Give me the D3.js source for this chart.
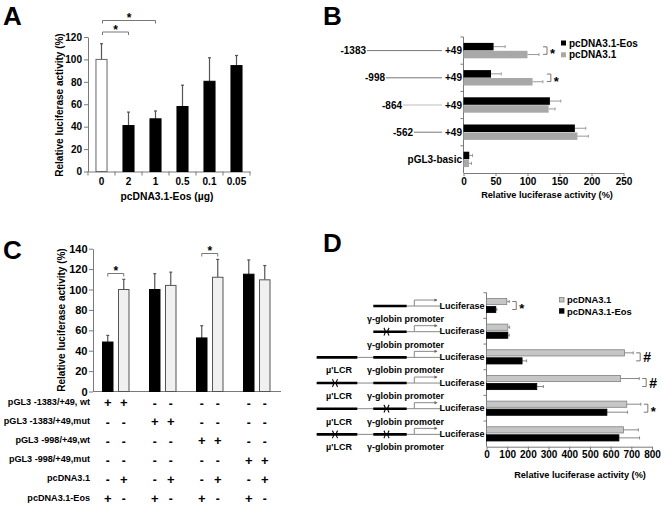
<!DOCTYPE html>
<html><head><meta charset="utf-8">
<script src="https://cdn.jsdelivr.net/npm/d3@7"></script>
<style>
body{margin:0;background:#fff}
svg text{font-family:"Liberation Sans",Arial,Helvetica,sans-serif;font-weight:bold;fill:#000}
</style>
</head><body>
<svg id="c" width="661" height="506"></svg>
<script>
// ---------- DATA ----------
// Panel A
const aCategories = ["0","2","1","0.5","0.1","0.05"];
const aValues = [100, 41, 47, 58, 80.5, 94.5];
const aErrors = [14, 12, 7, 19, 21, 9];
const aTicks = [0,20,40,60,80,100,120];
const aSig = [{from:"0", to:"2", label:"*"}, {from:"0", to:"1", label:"*"}];

// Panel B
const bCategories = ["-1383","-998","-864","-562","pGL3-basic"];
const bEos = [47, 43, 135, 174, 9];
const bEosErr = [18, 16, 17, 17, 5];
const bCtrl = [100, 108, 133, 178, 8.5];
const bCtrlErr = [18, 16, 10, 17, 4];
const bTicks = [0,50,100,150,200,250];
const bSig = ["-1383","-998"];
const bSeries = ["pcDNA3.1-Eos","pcDNA3.1"];

// Panel C
const cGroups = ["g1","g2","g3","g4"];
const cEos = [48.5, 100, 52.5, 115];
const cEosErr = [6.5, 15.5, 12, 14];
const cCtrl = [100, 104, 112, 109.5];
const cCtrlErr = [10, 13, 17.5, 14];
const cTicks = [0,20,40,60,80,100,120,140];
const cSig = ["g1","g3"];
const cRowLabels = ["pGL3 -1383/+49, wt","pGL3 -1383/+49,mut","pGL3 -998/+49,wt","pGL3 -998/+49,mut","pcDNA3.1","pcDNA3.1-Eos"];
const cRowSigns = [
  ["+","+","-","-","-","-","-","-"],
  ["-","-","+","+","-","-","-","-"],
  ["-","-","-","-","+","+","-","-"],
  ["-","-","-","-","-","-","+","+"],
  ["-","+","-","+","-","+","-","+"],
  ["+","-","+","-","+","-","+","-"]
];

// Panel D
const dRows = ["r1","r2","r3","r4","r5","r6"];
const dCtrl = [98, 103, 667, 648, 678, 662];
const dCtrlErr = [12, 9, 42, 90, 68, 72];
const dEos = [45, 103, 172, 243, 582, 640];
const dEosErr = [5, 7, 22, 32, 100, 100];
const dTicks = [0,100,200,300,400,500,600,700,800];
const dSig = [{row:"r1",label:"*"},{row:"r3",label:"#"},{row:"r4",label:"#"},{row:"r5",label:"*"}];
const dHasLCR = [false,false,true,true,true,true];
const dLcrMut = [false,false,false,true,false,true];
const dPromMut = [false,true,false,false,true,true];
const dSeries = ["pcDNA3.1","pcDNA3.1-Eos"];

// ---------- DRAW ----------
const svg = d3.select("#c");
const AX = "#7a7a7a";
function styleAxis(g){ g.selectAll("path,line").attr("stroke",AX).attr("stroke-width",1); }

// panel letters
[["A",3,25],["B",323,25],["C",3,259],["D",323,252]].forEach(([t,x,y])=>{
  svg.append("text").attr("x",x).attr("y",y).attr("font-size",26).text(t);
});

function bracketUp(g,x1,x2,y,label){
  g.append("path").attr("d",`M${x1},${y+3}V${y}H${x2}V${y+3}`).attr("fill","none").attr("stroke","#777").attr("stroke-width",1);
  g.append("text").attr("x",(x1+x2)/2).attr("y",y+1.5).attr("text-anchor","middle").attr("font-size",12).text(label);
}
function bracketRight(g,x0,y1,y2,label,fs){
  g.append("path").attr("d",`M${x0},${y1}H${x0+4}V${y2}H${x0}`).attr("fill","none").attr("stroke","#777").attr("stroke-width",1);
  g.append("text").attr("x",x0+7).attr("y",(y1+y2)/2).attr("dy",label==="*"?"0.6em":"0.36em").attr("font-size",fs).text(label);
}

// ===== Panel A =====
{
  const g = svg.append("g");
  const x = d3.scaleBand().domain(aCategories).range([88,250]);
  const y = d3.scaleLinear().domain([0,120]).range([171.5,37]);
  const bw = x.bandwidth()*0.41;
  g.append("g").attr("transform","translate(88,0)")
    .call(d3.axisLeft(y).tickValues(aTicks).tickSize(4).tickSizeOuter(0).tickPadding(2))
    .call(styleAxis).call(s=>s.selectAll("text").attr("font-size",10).style("font-family",null));
  g.append("g").attr("transform","translate(0,171.5)")
    .call(d3.axisBottom(x).tickSize(0).tickPadding(6).tickSizeOuter(0))
    .call(styleAxis).call(s=>s.selectAll("text").attr("font-size",10).style("font-family",null));
  g.selectAll(".bt").data(aCategories.concat(["end"])).join("line")
    .attr("x1",(d,i)=>88+i*x.step()).attr("x2",(d,i)=>88+i*x.step())
    .attr("y1",171.5).attr("y2",175.5).attr("stroke",AX);
  aCategories.forEach((c,i)=>{
    const cx = x(c)+x.bandwidth()/2;
    const top = y(aValues[i]+aErrors[i]);
    g.append("line").attr("x1",cx).attr("x2",cx).attr("y1",y(aValues[i])).attr("y2",top).attr("stroke","#555").attr("stroke-width",1.2);
    g.append("line").attr("x1",cx-1.5).attr("x2",cx+1.5).attr("y1",top).attr("y2",top).attr("stroke","#555").attr("stroke-width",1.2);
    g.append("rect").attr("x",cx-bw/2).attr("width",bw).attr("y",y(aValues[i])).attr("height",y(0)-y(aValues[i]))
      .attr("fill",i===0?"#fff":"#000").attr("stroke",i===0?"#666":"#000").attr("stroke-width",1);
  });
  const sigY = [32, 20.5];
  aSig.forEach((s,i)=>{
    bracketUp(g, x(s.from)+x.bandwidth()/2+1, x(s.to)+x.bandwidth()/2, sigY[i], s.label);
  });
  g.append("text").attr("transform","translate(63,105) rotate(-90)").attr("text-anchor","middle").attr("font-size",10).text("Relative luciferase activity (%)");
  g.append("text").attr("x",167).attr("y",200).attr("text-anchor","middle").attr("font-size",10.3).text("pcDNA3.1-Eos (µg)");
}

// ===== Panel B =====
{
  const g = svg.append("g");
  const y = d3.scaleBand().domain(bCategories).range([37,173]);
  const x = d3.scaleLinear().domain([0,250]).range([463.5,623.5]);
  const bh = 7.5;
  g.append("g").attr("transform","translate(0,173)")
    .call(d3.axisBottom(x).tickValues(bTicks).tickSize(3).tickSizeOuter(0).tickPadding(2))
    .call(styleAxis).call(s=>s.selectAll("text").attr("font-size",10).style("font-family",null));
  g.append("line").attr("x1",463.5).attr("x2",463.5).attr("y1",37).attr("y2",173).attr("stroke",AX);
  bCategories.forEach(c=>{
    g.append("line").attr("x1",460.5).attr("x2",463.5).attr("y1",y(c)).attr("y2",y(c)).attr("stroke",AX);
  });
  const lineStart = [367, 386, 403, 414];
  const lineCol = ["#777","#777","#bbb","#777"];
  bCategories.forEach((c,i)=>{
    const cy = y(c)+y.bandwidth()/2;
    // bars
    [[bEos,bEosErr,"#000",cy-bh-0.2],[bCtrl,bCtrlErr,"#a8a8a8",cy+0.2]].forEach(([v,e,col,yy])=>{
      const ym = yy+bh/2, xe = x(v[i]+e[i]);
      g.append("line").attr("x1",x(v[i])).attr("x2",xe).attr("y1",ym).attr("y2",ym).attr("stroke","#999").attr("stroke-width",1);
      g.append("line").attr("x1",xe).attr("x2",xe).attr("y1",ym-1.5).attr("y2",ym+1.5).attr("stroke","#999").attr("stroke-width",1);
      g.append("rect").attr("x",x(0)).attr("y",yy).attr("width",x(v[i])-x(0)).attr("height",bh).attr("fill",col);
    });
    if(i<4){
      g.append("text").attr("x",lineStart[i]-1).attr("y",cy).attr("dy","0.36em").attr("text-anchor","end").attr("font-size",10).text(c);
      g.append("line").attr("x1",lineStart[i]).attr("x2",442).attr("y1",cy).attr("y2",cy).attr("stroke",lineCol[i]).attr("stroke-width",1);
      g.append("text").attr("x",462).attr("y",cy).attr("dy","0.36em").attr("text-anchor","end").attr("font-size",10).text("+49");
    } else {
      g.append("text").attr("x",462).attr("y",cy).attr("dy","0.36em").attr("text-anchor","end").attr("font-size",10).text(c);
    }
    if(bSig.includes(c)){
      const mx = Math.max(bEos[i]+bEosErr[i], bCtrl[i]+bCtrlErr[i]);
      bracketRight(g, x(mx)+4, cy-bh/2, cy+bh/2, "*", 13);
    }
  });
  // legend
  const lg = g.append("g");
  bSeries.forEach((s,i)=>{
    lg.append("rect").attr("x",561).attr("y",40.5+i*11.8).attr("width",5).attr("height",5).attr("fill",i===0?"#000":"#a8a8a8");
    lg.append("text").attr("x",569).attr("y",43+i*11.8).attr("dy","0.36em").attr("font-size",10).text(s);
  });
  g.append("text").attr("x",547).attr("y",198).attr("text-anchor","middle").attr("font-size",9.2).text("Relative luciferase activity (%)");
}

// ===== Panel C =====
{
  const g = svg.append("g");
  const x = d3.scaleBand().domain(cGroups).range([92,280]);
  const xi = d3.scaleBand().domain(["Eos","Ctrl"]).range([10.5,37]).paddingInner(0.344);
  const y = d3.scaleLinear().domain([0,140]).range([391.5,248.7]);
  g.append("g").attr("transform","translate(93,0)")
    .call(d3.axisLeft(y).tickValues(cTicks).tickSize(4).tickSizeOuter(0).tickPadding(1.5))
    .call(styleAxis).call(s=>s.selectAll("text").attr("font-size",11).style("font-family",null));
  g.append("line").attr("x1",93).attr("x2",281).attr("y1",391.5).attr("y2",391.5).attr("stroke",AX);
  const cols = [];
  cGroups.forEach((gr,i)=>{
    [["Eos",cEos,cEosErr,"#000","#000"],["Ctrl",cCtrl,cCtrlErr,"#f0f0f0","#555"]].forEach(([k,v,e,f,st])=>{
      const bx = x(gr)+xi(k), w = xi.bandwidth(), cx = bx+w/2;
      cols.push(cx);
      const top = y(v[i]+e[i]);
      g.append("line").attr("x1",cx).attr("x2",cx).attr("y1",y(v[i])).attr("y2",top).attr("stroke","#555").attr("stroke-width",1.2);
      g.append("line").attr("x1",cx-1.5).attr("x2",cx+1.5).attr("y1",top).attr("y2",top).attr("stroke","#555").attr("stroke-width",1.2);
      g.append("rect").attr("x",bx).attr("width",w).attr("y",y(v[i])).attr("height",y(0)-y(v[i])).attr("fill",f).attr("stroke",st).attr("stroke-width",1);
    });
  });
  const sigY = [273.5, 253.5];
  cSig.forEach((gr,i)=>{
    const a = x(gr)+xi("Eos")+xi.bandwidth()/2, b = x(gr)+xi("Ctrl")+xi.bandwidth()/2;
    bracketUp(g, a, b, sigY[i], "*");
  });
  g.append("text").attr("transform","translate(64.5,320) rotate(-90)").attr("text-anchor","middle").attr("font-size",10).text("Relative luciferase activity (%)");
  cRowLabels.forEach((lab,r)=>{
    const ry = 401.7 + r*19.12;
    g.append("text").attr("x",90).attr("y",ry).attr("dy","0.36em").attr("text-anchor","end").attr("font-size",9.1).text(lab);
    cRowSigns[r].forEach((s,j)=>{
      g.append("text").attr("x",cols[j]).attr("y",ry).attr("dy",s==="+"?"0.42em":"0.5em").attr("text-anchor","middle").attr("font-size",s==="+"?13:12).text(s);
    });
  });
}

// ===== Panel D =====
{
  const g = svg.append("g");
  const y = d3.scaleBand().domain(dRows).range([292.7,446.7]);
  const x = d3.scaleLinear().domain([0,800]).range([486.5,652]);
  const bh = 6.2;
  g.append("g").attr("transform","translate(0,446.7)")
    .call(d3.axisBottom(x).tickValues(dTicks).tickSize(3).tickSizeOuter(0).tickPadding(1))
    .call(styleAxis).call(s=>s.selectAll("text").attr("font-size",10).style("font-family",null));
  g.append("line").attr("x1",486.5).attr("x2",486.5).attr("y1",292.7).attr("y2",446.7).attr("stroke",AX);
  dRows.forEach(r=>{
    g.append("line").attr("x1",483.5).attr("x2",486.5).attr("y1",y(r)).attr("y2",y(r)).attr("stroke",AX);
  });
  dRows.forEach((r,i)=>{
    const cy = y(r)+y.bandwidth()/2;
    [[dCtrl,dCtrlErr,"#c6c6c6","#808080",cy-bh-0.9],[dEos,dEosErr,"#000","#000",cy+0.9]].forEach(([v,e,f,st,yy])=>{
      const ym = yy+bh/2, xe = x(v[i]+e[i]);
      g.append("line").attr("x1",x(v[i])).attr("x2",xe).attr("y1",ym).attr("y2",ym).attr("stroke","#888").attr("stroke-width",1);
      g.append("line").attr("x1",xe).attr("x2",xe).attr("y1",ym-1.5).attr("y2",ym+1.5).attr("stroke","#888").attr("stroke-width",1);
      g.append("rect").attr("x",x(0)).attr("y",yy).attr("width",x(v[i])-x(0)).attr("height",bh).attr("fill",f).attr("stroke",st).attr("stroke-width",0.8);
    });
    const sg = dSig.find(s=>s.row===r);
    if(sg){
      const mx = Math.max(dCtrl[i]+dCtrlErr[i], dEos[i]+dEosErr[i]);
      bracketRight(g, x(mx)+3, cy-bh/2-0.9, cy+bh/2+0.9, sg.label, sg.label==="#"?14:13);
    }
    // construct diagram
    const ly = cy+0.5;
    const thinStart = dHasLCR[i] ? 316.7 : 406.7;
    g.append("line").attr("x1",thinStart).attr("x2",440).attr("y1",ly).attr("y2",ly).attr("stroke","#888").attr("stroke-width",1);
    if(dHasLCR[i]){
      g.append("line").attr("x1",316.7).attr("x2",357.3).attr("y1",ly).attr("y2",ly).attr("stroke","#000").attr("stroke-width",2.6);
      g.append("text").attr("x",339).attr("y",cy+16.5).attr("text-anchor","middle").attr("font-size",9).text("µ'LCR");
      if(dLcrMut[i]) cross(g,335,ly);
    }
    g.append("line").attr("x1",373.3).attr("x2",406.7).attr("y1",ly).attr("y2",ly).attr("stroke","#000").attr("stroke-width",2.6);
    if(dPromMut[i]) cross(g,386.5,ly);
    g.append("path").attr("d",`M414.3,${ly}V${ly-6}H437`).attr("fill","none").attr("stroke","#888").attr("stroke-width",1);
    g.append("path").attr("d",`M437.5,${ly-6}l-3,-1.6v3.2z`).attr("fill","#666");
    g.append("text").attr("x",484.5).attr("y",cy).attr("dy","0.36em").attr("text-anchor","end").attr("font-size",9).text("Luciferase");
    g.append("text").attr("x",405.5).attr("y",cy+16.5).attr("text-anchor","middle").attr("font-size",9).text("γ-globin promoter");
  });
  function cross(g,cx,cy){
    g.append("path").attr("d",`M${cx-2.6},${cy-3.8}Q${cx},${cy} ${cx-2.6},${cy+3.8}M${cx+2.6},${cy-3.8}Q${cx},${cy} ${cx+2.6},${cy+3.8}`)
      .attr("fill","none").attr("stroke","#000").attr("stroke-width",1.1);
  }
  const lg = g.append("g");
  dSeries.forEach((s,i)=>{
    lg.append("rect").attr("x",559.5).attr("y",297.5+i*11.2).attr("width",4.5).attr("height",4.5)
      .attr("fill",i===0?"#c6c6c6":"#000").attr("stroke",i===0?"#808080":"#000").attr("stroke-width",0.8);
    lg.append("text").attr("x",567).attr("y",300+i*11.2).attr("dy","0.36em").attr("font-size",9.4).text(s);
  });
  g.append("text").attr("x",580).attr("y",478).attr("text-anchor","middle").attr("font-size",9.2).text("Relative luciferase activity (%)");
}
</script>
</body></html>
